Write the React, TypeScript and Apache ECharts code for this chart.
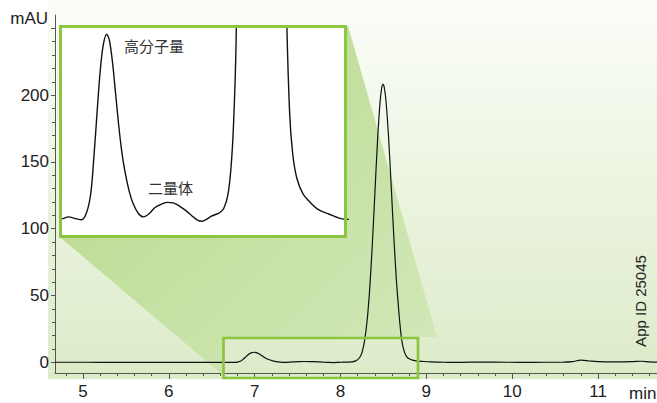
import React, { useEffect, useRef } from 'react';
import * as echarts from 'echarts';

// retention time (min)
const times = [
  4.674, 5.0, 5.4, 5.8, 6.2, 6.45, 6.557, 6.62, 6.7, 6.75, 6.8, 6.84, 6.87, 6.9, 6.93, 6.96, 6.994,
  7.02, 7.05, 7.08, 7.11, 7.14, 7.17, 7.21, 7.25, 7.3, 7.35, 7.41, 7.46, 7.52, 7.58, 7.64, 7.7,
  7.76, 7.82, 7.87, 7.92, 7.97, 8.01, 8.05, 8.09, 8.13, 8.17, 8.2, 8.225, 8.25, 8.28, 8.31, 8.34,
  8.37, 8.4, 8.43, 8.46, 8.48, 8.495, 8.51, 8.53, 8.56, 8.59, 8.62, 8.65, 8.68, 8.71, 8.74, 8.77,
  8.8, 8.84, 8.9, 8.97, 9.05, 9.15, 9.25, 9.33, 9.5, 9.8, 10.1, 10.4, 10.6, 10.7, 10.8, 10.9, 11.0,
  11.2, 11.4, 11.5, 11.6, 11.687,
];
// absorbance (mAU)
const mAU = [
  0.05, 0.05, 0.0, 0.0, 0.0, -0.05, -0.08, 0.0, -0.08, -0.12, 0.2, 1.0, 2.5, 4.3, 6.0, 7.1, 7.55,
  7.3, 6.4, 5.1, 3.8, 2.7, 1.9, 1.1, 0.55, 0.15, 0.0, 0.15, 0.38, 0.52, 0.6, 0.58, 0.45,
  0.27, 0.05, -0.12, -0.18, -0.08, 0.03, 0.1, 0.17, 0.35, 0.9, 2.0, 3.8, 7.2, 16.1, 31.1, 55,
  87.5, 126, 164.6, 194, 205.4, 208, 205.7, 195.6, 168.4, 132.5, 95.3, 62.6, 37.6, 18, 8.6, 4.3,
  2.6, 1.6, 0.95, 0.6, 0.3, 0.12, -0.05, -0.1, 0.1, 0.1, 0.0, 0.05, 0.1, 0.5, 1.6, 1.0, 0.5,
  0.3, 0.5, 0.8, 0.3, 0.1,
];

const xTickLabels = [5, 6, 7, 8, 9, 10, 11];
const xMinorTicks = [
  4.8, 5.0, 5.2, 5.4, 5.6, 5.8, 6.0, 6.2, 6.4, 6.6, 6.8, 7.0, 7.2, 7.4, 7.6, 7.8, 8.0, 8.2, 8.4,
  8.6, 8.8, 9.0, 9.2, 9.4, 9.6, 9.8, 10.0, 10.2, 10.4, 10.6, 10.8, 11.0, 11.2, 11.4, 11.6,
];
const yTickLabels = [0, 50, 100, 150, 200];
const yMajorTicks = [0, 50, 100, 150, 200, 250];
const yMinorTicks = [
  0, 10, 20, 30, 40, 50, 60, 70, 80, 90, 100, 110, 120, 130, 140, 150, 160, 170, 180, 190, 200,
  210, 220, 230, 240, 250,
];

const yUnit = 'mAU';
const xUnit = 'min';
const appId = 'App ID 25045';
const labelHigh = '高分子量';
const labelDimer = '二量体';

const GREEN = '#8cc540';
const AXIS = '#555';
const FONT = "'Liberation Sans', Arial, sans-serif";
const CJK = "'Noto Sans CJK JP', 'Noto Sans CJK SC', sans-serif";

export default function App() {
  const ref = useRef<HTMLDivElement>(null);

  useEffect(() => {
    if (!ref.current) return;
    const chart = echarts.init(ref.current, undefined, { renderer: 'svg' });
    const data = times.map((t, i) => [t, mAU[i]]);

    const option: any = {
      animation: false,
      grid: [
        { left: 55, top: 15, width: 602, height: 358, containLabel: false, outerBoundsMode: 'none' },
        { left: 61, top: 26, width: 286, height: 211, containLabel: false, outerBoundsMode: 'none' },
      ],
      xAxis: [
        {
          gridIndex: 0, type: 'value', min: 4.674, max: 11.687, position: 'bottom',
          axisLine: { show: true, onZero: false, lineStyle: { color: AXIS, width: 1 } },
          axisTick: { show: true, length: 6, customValues: xTickLabels, lineStyle: { color: AXIS } },
          axisLabel: { customValues: xTickLabels, margin: 10, fontSize: 17, fontFamily: FONT, color: '#222' },
          splitLine: { show: false },
        },
        {
          gridIndex: 0, type: 'value', min: 4.674, max: 11.687, position: 'bottom',
          axisLine: { show: false, onZero: false },
          axisTick: { show: true, length: 3, customValues: xMinorTicks, lineStyle: { color: AXIS } },
          axisLabel: { show: false },
          splitLine: { show: false },
        },
        { gridIndex: 1, type: 'value', min: 6.55, max: 9.327, show: false },
      ],
      yAxis: [
        {
          gridIndex: 0, type: 'value', min: -8, max: 260, position: 'left',
          axisLine: { show: true, onZero: false, lineStyle: { color: AXIS, width: 1 } },
          axisTick: { show: true, length: 4, customValues: yMajorTicks, lineStyle: { color: AXIS } },
          axisLabel: { customValues: yTickLabels, margin: 6, fontSize: 17, fontFamily: FONT, color: '#222' },
          splitLine: { show: false },
        },
        {
          gridIndex: 0, type: 'value', min: -8, max: 260, position: 'left',
          axisLine: { show: false, onZero: false },
          axisTick: { show: true, length: 3, customValues: yMinorTicks, lineStyle: { color: AXIS } },
          axisLabel: { show: false },
          splitLine: { show: false },
        },
        { gridIndex: 1, type: 'value', min: -0.83, max: 7.89, show: false },
      ],
      series: [
        {
          type: 'line', xAxisIndex: 0, yAxisIndex: 0, data, showSymbol: false, smooth: 0.3,
          lineStyle: { color: '#111', width: 1.2 }, z: 3,
        },
        {
          type: 'line', xAxisIndex: 2, yAxisIndex: 2, data, showSymbol: false, smooth: 0.3, clip: true,
          lineStyle: { color: '#111', width: 1.4 }, z: 3,
        },
      ],
      graphic: [
        {
          type: 'rect', z: -10, silent: true,
          shape: { x: 48, y: 0, width: 609, height: 379 },
          style: {
            fill: new echarts.graphic.LinearGradient(0, 0, 0, 1, [
              { offset: 0, color: '#fbfdf8' },
              { offset: 1, color: '#dcebc8' },
            ]),
          },
        },
        {
          type: 'polygon', z: 1, silent: true,
          shape: { points: [[61, 238], [224, 376], [224, 337], [437, 337], [348, 26]] },
          style: {
            fill: new echarts.graphic.LinearGradient(0, 0, 1, 1, [
              { offset: 0, color: '#b6d989' },
              { offset: 1, color: '#d3e8ba' },
            ]),
          },
        },
        {
          type: 'rect', z: 1, silent: true,
          shape: { x: 60.5, y: 26.5, width: 285, height: 210 },
          style: { fill: '#ffffff' },
        },
        {
          type: 'rect', z: 8, silent: true,
          shape: { x: 60.5, y: 26.5, width: 285, height: 210 },
          style: { fill: 'none', stroke: GREEN, lineWidth: 3 },
        },
        {
          type: 'rect', z: 8, silent: true,
          shape: { x: 223.5, y: 338, width: 194.5, height: 40 },
          style: { fill: 'none', stroke: GREEN, lineWidth: 2.7 },
        },
        {
          type: 'text', z: 9, silent: true, x: 48, y: 18,
          style: { text: yUnit, font: `17px ${FONT}`, fill: '#222', textAlign: 'right', textVerticalAlign: 'middle' },
        },
        {
          type: 'text', z: 9, silent: true, x: 629, y: 393,
          style: { text: xUnit, font: `17px ${FONT}`, fill: '#222', textAlign: 'left', textVerticalAlign: 'middle' },
        },
        {
          type: 'text', z: 9, silent: true, x: 640, y: 301, rotation: Math.PI / 2,
          style: { text: appId, font: `15px ${FONT}`, fill: '#222', textAlign: 'center', textVerticalAlign: 'middle' },
        },
        {
          type: 'text', z: 9, silent: true, x: 124, y: 45,
          style: { text: labelHigh, font: `15px ${CJK}`, fill: '#333', textAlign: 'left', textVerticalAlign: 'middle' },
        },
        {
          type: 'text', z: 9, silent: true, x: 148, y: 187,
          style: { text: labelDimer, font: `15px ${CJK}`, fill: '#333', textAlign: 'left', textVerticalAlign: 'middle' },
        },
      ],
    };

    chart.setOption(option);
    return () => chart.dispose();
  }, []);

  return (
    <div
      ref={ref}
      style={{ position: 'absolute', left: 0, top: 0, width: 657, height: 403, background: '#fff' }}
    />
  );
}
